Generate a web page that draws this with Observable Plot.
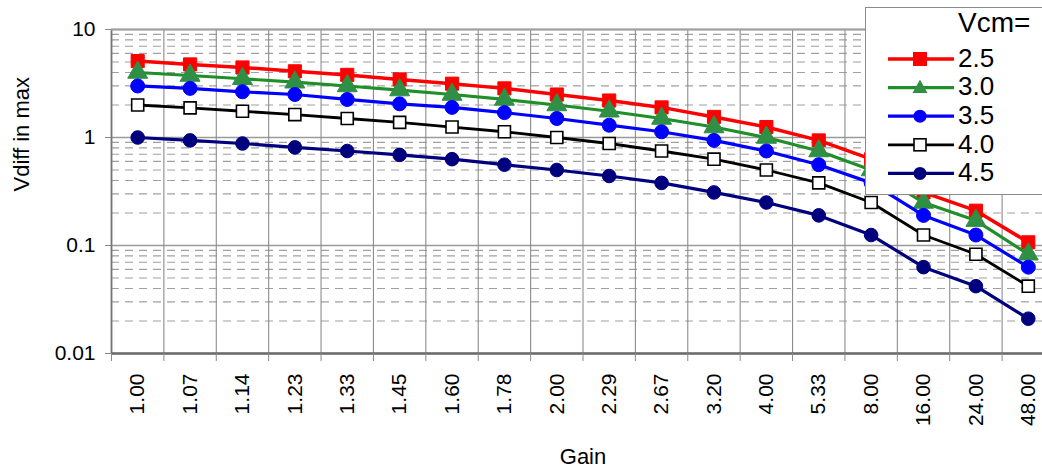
<!DOCTYPE html>
<html>
<head>
<meta charset="utf-8">
<script src="https://cdn.jsdelivr.net/npm/d3@7"></script>
<script src="https://cdn.jsdelivr.net/npm/@observablehq/plot@0.6"></script>
<style>
  html, body { margin: 0; padding: 0; background: #fff; }
  #wrap { position: relative; width: 1042px; height: 474px; overflow: hidden; font-family: "Liberation Sans", Arial, sans-serif; }
  #legend { position: absolute; left: 865px; top: 7px; width: 200px; height: 188px; background: #fff; border: 1px solid #8a8a8a; box-sizing: border-box; }
</style>
</head>
<body>
<div id="wrap"><div id="chart"></div><div id="legend"></div></div>
<script>
// ---- data ----
const gains = ["1.00","1.07","1.14","1.23","1.33","1.45","1.60","1.78","2.00","2.29","2.67","3.20","4.00","5.33","8.00","16.00","24.00","48.00"];
const seriesNames = ["2.5","3.0","3.5","4.0","4.5"];
const vcm25 = [5.1, 4.75, 4.45, 4.1, 3.8, 3.45, 3.15, 2.85, 2.5, 2.2, 1.9, 1.55, 1.25, 0.94, 0.63, 0.31, 0.21, 0.107];
const vcm30 = [4.0, 3.75, 3.5, 3.25, 3.0, 2.75, 2.5, 2.25, 2.0, 1.75, 1.5, 1.25, 1.0, 0.75, 0.5, 0.25, 0.17, 0.083];
const vcm35 = [3.0, 2.85, 2.65, 2.5, 2.25, 2.05, 1.9, 1.7, 1.5, 1.3, 1.13, 0.94, 0.75, 0.56, 0.38, 0.19, 0.125, 0.063];
const vcm40 = [2.0, 1.88, 1.75, 1.63, 1.5, 1.38, 1.25, 1.13, 1.0, 0.88, 0.75, 0.63, 0.5, 0.38, 0.25, 0.125, 0.083, 0.042];
const vcm45 = [1.0, 0.94, 0.88, 0.81, 0.75, 0.69, 0.63, 0.56, 0.5, 0.44, 0.38, 0.31, 0.25, 0.19, 0.125, 0.063, 0.042, 0.021];
const yTicks = [0.01, 0.1, 1, 10];
const yTickLabels = ["0.01", "0.1", "1", "10"];

// ---- styles ----
const seriesValues = [vcm25, vcm30, vcm35, vcm40, vcm45];
const colors = ["#ff0000", "#1f8f2a", "#0000ff", "#000000", "#00007f"];
const symbols = ["square", "triangle", "circle", "square", "circle"];
const fills = ["#ff0000", "#2e8f45", "#0000ff", "#ffffff", "#00007f"];
const radii = [7.4, 7.4, 7, 6.8, 6.8];
const widths = [3.5, 3.2, 3.2, 2.8, 3.2];

const rows = seriesValues.map((vals, s) => vals.map((v, i) => ({i, v, s})));
const n = gains.length;
const boundaries = d3.range(n + 1).map(k => k - 0.5);
const minor = [];
for (const dec of [0.01, 0.1, 1]) for (let m = 2; m <= 9; m++) minor.push(+(dec * m).toPrecision(3));

const marks = [
  Plot.ruleY(minor, {stroke: "#a0a0a0", strokeWidth: 1.2, strokeDasharray: "8,6"}),
  Plot.ruleY(yTicks, {stroke: "#9a9a9a", strokeWidth: 1.3}),
  Plot.ruleX(boundaries, {stroke: "#8c8c8c", strokeWidth: 1.1}),
  Plot.ruleX([-0.5], {stroke: "#777", strokeWidth: 1.8}),
  Plot.ruleY([10], {stroke: "#a0a0a0", strokeWidth: 2}),
];
rows.forEach((data, s) => {
  marks.push(Plot.line(data, {x: "i", y: "v", stroke: colors[s], strokeWidth: widths[s]}));
  marks.push(Plot.dot(data, {x: "i", y: "v", symbol: () => symbols[s], r: radii[s], fill: fills[s], stroke: s === 3 ? "#000" : fills[s], strokeWidth: s === 3 ? 1.6 : 1}));
});
marks.push(
  Plot.ruleY([0.01], {stroke: "#6a6a6a", strokeWidth: 2.6}),
  Plot.axisX(boundaries, {tickSize: 8, tickFormat: () => "", stroke: "#888", label: null}),
  Plot.axisX(d3.range(n), {tickSize: 0, tickPadding: 20, tickRotate: -90, tickFormat: i => gains[i], fontSize: 21, label: null}),
  Plot.axisY(yTicks, {tickSize: 6, tickPadding: 10, tickFormat: (d) => yTickLabels[yTicks.indexOf(d)], fontSize: 21, label: null, stroke: "#888"}),
  Plot.text(["Vdiff in max"], {frameAnchor: "left", dx: -90, rotate: -90, fontSize: 22}),
  Plot.text(["Gain"], {frameAnchor: "bottom", dy: 110, fontSize: 22})
);

const chart = Plot.plot({
  width: 1042,
  height: 474,
  marginLeft: 111,
  marginRight: -12,
  marginTop: 29,
  marginBottom: 121,
  style: {fontFamily: "Liberation Sans, Arial, sans-serif", color: "#000", background: "#fff", overflow: "hidden"},
  x: {type: "linear", domain: [-0.5, n - 0.5]},
  y: {type: "log", domain: [0.01, 10]},
  marks
});
document.getElementById("chart").appendChild(chart);

// ---- legend ----
const ns = "http://www.w3.org/2000/svg";
const lg = document.createElementNS(ns, "svg");
lg.setAttribute("width", 200); lg.setAttribute("height", 188);
let html = `<text x="92" y="17" font-size="28" dominant-baseline="middle" font-family="Liberation Sans, Arial, sans-serif">Vcm=</text>`;
seriesNames.forEach((name, s) => {
  const cy = 51 + s * 28.6;
  html += `<line x1="22" x2="88" y1="${cy}" y2="${cy}" stroke="${colors[s]}" stroke-width="${widths[s]}"/>`;
  const cx = 54;
  const sym = symbols[s];
  if (sym === "square") {
    const h = s === 3 ? 6 : 6.5;
    html += `<rect x="${cx - h}" y="${cy - h}" width="${2*h}" height="${2*h}" fill="${fills[s]}" stroke="${s === 3 ? "#000" : fills[s]}" stroke-width="${s === 3 ? 1.6 : 1}"/>`;
  } else if (sym === "triangle") {
    html += `<path d="M${cx},${cy - 8} L${cx + 7.5},${cy + 5.5} L${cx - 7.5},${cy + 5.5} Z" fill="${fills[s]}"/>`;
  } else {
    html += `<circle cx="${cx}" cy="${cy}" r="6.5" fill="${fills[s]}"/>`;
  }
  html += `<text x="92" y="${cy + 1}" font-size="26" dominant-baseline="middle" font-family="Liberation Sans, Arial, sans-serif">${name}</text>`;
});
lg.innerHTML = html;
document.getElementById("legend").appendChild(lg);
</script>
</body>
</html>
